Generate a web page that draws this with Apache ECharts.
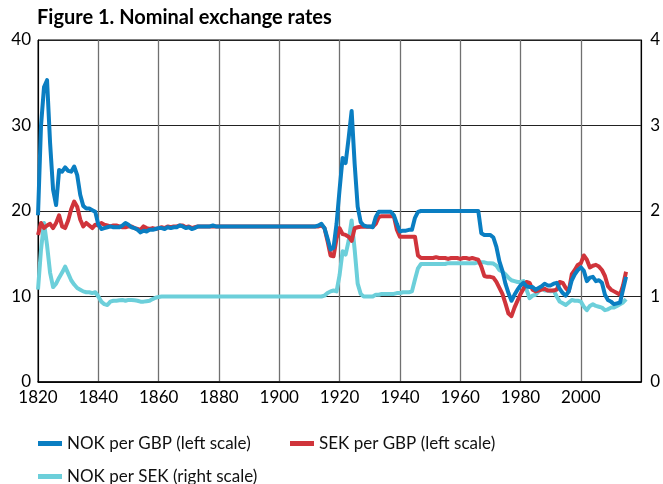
<!DOCTYPE html>
<html>
<head>
<meta charset="utf-8">
<script src="https://cdn.jsdelivr.net/npm/echarts@6/dist/echarts.min.js"></script>
<style>
html,body{margin:0;padding:0;background:#fff;}
#chart{width:663px;height:484px;}
</style>
</head>
<body>
<div id="chart"></div>
<script>
var firstYear = 1820;
var xTickLabels = [1820, 1840, 1860, 1880, 1900, 1920, 1940, 1960, 1980, 2000];
var leftTicks = [0, 10, 20, 30, 40];
var rightTicks = [0, 1, 2, 3, 4];
var seriesNames = ['NOK per GBP (left scale)', 'SEK per GBP (left scale)', 'NOK per SEK (right scale)'];

var nokPerGbp = [
  19.5, 30.0, 34.5, 35.3, 28.0, 22.5, 20.7, 24.8, 24.6, 25.1,
  24.7, 24.6, 25.2, 24.2, 21.9, 20.6, 20.3, 20.3, 20.1, 19.9,
  18.4, 17.9, 18.0, 18.1, 18.2, 18.1, 18.1, 18.1, 18.3, 18.6,
  18.4, 18.1, 18.0, 17.8, 17.5, 17.7, 17.6, 17.8, 17.8, 17.9,
  18.0, 18.0, 17.9, 18.1, 18.0, 18.1, 18.1, 18.3, 18.2, 18.0,
  18.1, 17.9, 18.0, 18.2, 18.2, 18.2, 18.2, 18.2, 18.3, 18.2,
  18.2, 18.2, 18.2, 18.2, 18.2, 18.2, 18.2, 18.2, 18.2, 18.2,
  18.2, 18.2, 18.2, 18.2, 18.2, 18.2, 18.2, 18.2, 18.2, 18.2,
  18.2, 18.2, 18.2, 18.2, 18.2, 18.2, 18.2, 18.2, 18.2, 18.2,
  18.2, 18.2, 18.2, 18.3, 18.5, 18.0, 16.8, 15.5, 15.7, 18.5,
  22.5, 26.2, 25.6, 28.5, 31.7, 25.5, 20.5, 18.7, 18.3, 18.2,
  18.2, 18.1, 19.3, 19.9, 19.9, 19.9, 19.9, 19.9, 19.5, 18.5,
  17.6, 17.7, 17.7, 17.8, 17.8, 19.2, 19.9, 20.0, 20.0, 20.0,
  20.0, 20.0, 20.0, 20.0, 20.0, 20.0, 20.0, 20.0, 20.0, 20.0,
  20.0, 20.0, 20.0, 20.0, 20.0, 20.0, 20.0, 17.4, 17.2, 17.2,
  17.2, 16.9, 15.8, 14.1, 13.0, 11.5, 10.4, 9.5, 10.2, 10.8,
  11.3, 11.6, 11.2, 11.1, 11.1, 10.8, 11.0, 11.2, 11.5, 11.3,
  11.3, 11.5, 11.6, 10.9, 10.4, 10.1, 10.6, 11.9, 12.6, 13.1,
  13.4, 13.0, 11.8, 12.2, 12.3, 11.8, 11.9, 11.6, 10.2, 9.6,
  9.4, 9.1, 9.2, 9.3, 10.8, 12.3
];

var sekPerGbp = [
  17.2, 18.6, 18.0, 18.3, 18.5, 18.0, 18.6, 19.5, 18.2, 18.0,
  18.9, 20.2, 21.1, 20.5, 19.0, 18.2, 18.6, 18.3, 18.0, 18.4,
  18.3, 18.6, 18.4, 18.3, 18.2, 18.3, 18.3, 18.2, 18.1, 18.1,
  18.2, 18.2, 18.0, 17.9, 17.8, 18.2, 18.0, 17.9, 18.0, 17.9,
  18.0, 18.1, 18.0, 18.2, 18.1, 18.2, 18.2, 18.3, 18.3, 18.1,
  18.2, 18.0, 18.1, 18.2, 18.2, 18.2, 18.2, 18.2, 18.2, 18.2,
  18.2, 18.2, 18.2, 18.2, 18.2, 18.2, 18.2, 18.2, 18.2, 18.2,
  18.2, 18.2, 18.2, 18.2, 18.2, 18.2, 18.2, 18.2, 18.2, 18.2,
  18.2, 18.2, 18.2, 18.2, 18.2, 18.2, 18.2, 18.2, 18.2, 18.2,
  18.2, 18.2, 18.2, 18.2, 18.3, 18.0, 16.5, 14.8, 14.7, 16.8,
  18.0, 17.3, 17.2, 17.0, 16.5, 18.0, 18.1, 18.15, 18.15, 18.15,
  18.15, 18.15, 18.5, 19.3, 19.4, 19.4, 19.4, 19.4, 19.4, 17.8,
  17.0, 17.0, 17.0, 17.0, 17.0, 17.0, 14.8, 14.5, 14.5, 14.5,
  14.5, 14.5, 14.6, 14.5, 14.5, 14.5, 14.4, 14.5, 14.5, 14.5,
  14.4, 14.5, 14.5, 14.4, 14.5, 14.4, 14.3, 13.5, 12.4, 12.3,
  12.3, 12.2, 11.7, 11.0, 10.3, 9.2, 8.0, 7.7, 8.7, 9.5,
  10.3, 10.9, 11.7, 11.6, 10.8, 10.6, 10.7, 10.8, 10.9, 10.7,
  10.7, 10.7, 10.8, 11.7, 11.6, 11.0, 10.6, 12.6, 13.1, 13.7,
  13.9, 14.8, 14.3, 13.4, 13.6, 13.7, 13.5, 13.1, 12.4, 11.2,
  10.8, 10.6, 10.4, 10.2, 11.3, 12.9
];

var nokPerSek = [
  1.08, 1.55, 1.86, 1.60, 1.28, 1.11, 1.15, 1.22, 1.28, 1.35,
  1.27, 1.19, 1.14, 1.10, 1.08, 1.06, 1.05, 1.05, 1.04, 1.05,
  1.00, 0.94, 0.91, 0.90, 0.94, 0.95, 0.95, 0.955, 0.96, 0.95,
  0.96, 0.96, 0.955, 0.95, 0.94, 0.94, 0.945, 0.95, 0.97, 0.985,
  0.995, 1.0, 1.0, 1.0, 1.0, 1.0, 1.0, 1.0, 1.0, 1.0,
  1.0, 1.0, 1.0, 1.0, 1.0, 1.0, 1.0, 1.0, 1.0, 1.0,
  1.0, 1.0, 1.0, 1.0, 1.0, 1.0, 1.0, 1.0, 1.0, 1.0,
  1.0, 1.0, 1.0, 1.0, 1.0, 1.0, 1.0, 1.0, 1.0, 1.0,
  1.0, 1.0, 1.0, 1.0, 1.0, 1.0, 1.0, 1.0, 1.0, 1.0,
  1.0, 1.0, 1.0, 1.0, 1.0, 1.01, 1.04, 1.06, 1.07, 1.06,
  1.25, 1.53, 1.49, 1.65, 1.89, 1.55, 1.15, 1.03, 1.0, 1.0,
  1.0, 1.0, 1.02, 1.02, 1.03, 1.03, 1.03, 1.03, 1.03, 1.04,
  1.04, 1.05, 1.05, 1.05, 1.06, 1.20, 1.33, 1.38, 1.38, 1.38,
  1.38, 1.38, 1.38, 1.38, 1.38, 1.38, 1.39, 1.39, 1.39, 1.39,
  1.39, 1.39, 1.39, 1.39, 1.39, 1.39, 1.40, 1.40, 1.40, 1.39,
  1.39, 1.385, 1.36, 1.31, 1.29, 1.26, 1.22, 1.19, 1.18, 1.17,
  1.17, 1.18, 1.08, 0.98, 1.01, 1.02, 1.06, 1.10, 1.07, 1.07,
  1.06, 1.07, 1.00, 0.94, 0.92, 0.90, 0.93, 0.96, 0.95, 0.95,
  0.94, 0.88, 0.84, 0.89, 0.91, 0.89, 0.88, 0.87, 0.84, 0.85,
  0.87, 0.87, 0.89, 0.91, 0.93, 0.97
];

function pairs(vals) {
  var out = [];
  for (var i = 0; i < vals.length; i++) out.push([firstYear + i, vals[i]]);
  return out;
}

var FONT = 'Lato';
var colBlue = '#0a7ec2';
var colRed = '#d0343b';
var colLight = '#6ccfda';

var chart = echarts.init(document.getElementById('chart'), null, {renderer: 'canvas'});

var legendBase = {
  orient: 'horizontal',
  icon: 'rect',
  itemWidth: 24,
  itemHeight: 5,
  itemGap: 10,
  textStyle: {fontFamily: FONT, fontSize: 17, color: '#111', padding: [0, 0, 0, 0]},
  padding: 0,
  selectedMode: false
};

chart.setOption({
  animation: false,
  backgroundColor: '#fff',
  title: {
    text: 'Figure 1. Nominal exchange rates',
    left: 37,
    top: 8,
    padding: 0,
    textStyle: {fontFamily: FONT, fontWeight: 'bold', fontSize: 20, color: '#000'}
  },
  legend: [
    Object.assign({}, legendBase, {data: [seriesNames[0]], left: 38, top: 435}),
    Object.assign({}, legendBase, {data: [seriesNames[1]], left: 290, top: 435}),
    Object.assign({}, legendBase, {data: [seriesNames[2]], left: 38, top: 468})
  ],
  grid: {
    left: 38, right: 19, top: 40, bottom: 102,
    show: true, borderColor: '#000', borderWidth: 1, backgroundColor: 'transparent'
  },
  xAxis: {
    type: 'value',
    min: 1820, max: 2020, interval: 20,
    axisLine: {show: true, lineStyle: {color: '#000', width: 1.5}},
    axisTick: {show: false},
    splitLine: {show: true, lineStyle: {color: '#707070', width: 1.3}},
    axisLabel: {
      fontFamily: FONT, fontSize: 17, color: '#000', margin: 7,
      formatter: function (v) { return xTickLabels.indexOf(v) >= 0 ? String(v) : ''; }
    }
  },
  yAxis: [
    {
      type: 'value', position: 'left',
      min: leftTicks[0], max: leftTicks[leftTicks.length - 1], interval: 10,
      axisLine: {show: true, lineStyle: {color: '#000', width: 1}},
      axisTick: {show: false},
      splitLine: {show: true, lineStyle: {color: '#222', width: 1}},
      axisLabel: {fontFamily: FONT, fontSize: 17, color: '#000', margin: 7}
    },
    {
      type: 'value', position: 'right',
      min: rightTicks[0], max: rightTicks[rightTicks.length - 1], interval: 1,
      axisLine: {show: true, lineStyle: {color: '#000', width: 1}},
      axisTick: {show: false},
      splitLine: {show: false},
      axisLabel: {fontFamily: FONT, fontSize: 17, color: '#000', margin: 9}
    }
  ],
  series: [
    {
      name: seriesNames[2], type: 'line', yAxisIndex: 1, data: pairs(nokPerSek),
      showSymbol: false, symbol: 'none', color: colLight,
      lineStyle: {width: 4, color: colLight, join: 'round'}, z: 2
    },
    {
      name: seriesNames[1], type: 'line', yAxisIndex: 0, data: pairs(sekPerGbp),
      showSymbol: false, symbol: 'none', color: colRed,
      lineStyle: {width: 4, color: colRed, join: 'round'}, z: 3
    },
    {
      name: seriesNames[0], type: 'line', yAxisIndex: 0, data: pairs(nokPerGbp),
      showSymbol: false, symbol: 'none', color: colBlue,
      lineStyle: {width: 4, color: colBlue, join: 'round'}, z: 4
    }
  ]
});
</script>
</body>
</html>
